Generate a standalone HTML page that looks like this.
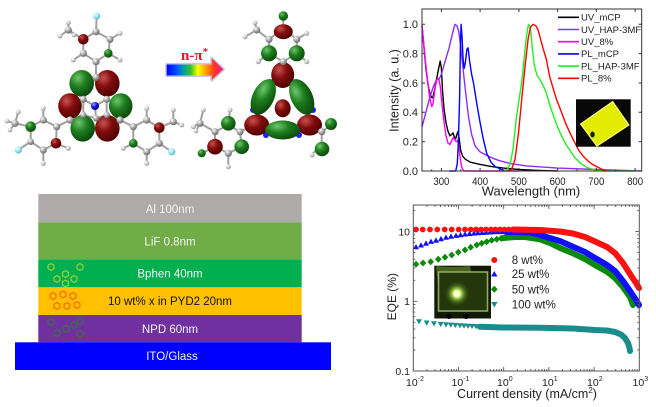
<!DOCTYPE html>
<html><head><meta charset="utf-8"><style>
html,body{margin:0;padding:0;background:#fff;}
svg{display:block;font-family:"Liberation Sans",Arial,sans-serif;}
</style></head><body>
<svg width="656" height="407" viewBox="0 0 656 407" xmlns="http://www.w3.org/2000/svg">
<defs>
<radialGradient id="gr" cx=".35" cy=".3" r=".75"><stop offset="0" stop-color="#c85050"/><stop offset=".45" stop-color="#820c0c"/><stop offset="1" stop-color="#4a0000"/></radialGradient>
<radialGradient id="gg" cx=".35" cy=".3" r=".75"><stop offset="0" stop-color="#6cc86c"/><stop offset=".45" stop-color="#1e7d1e"/><stop offset="1" stop-color="#0a450a"/></radialGradient>
<radialGradient id="ga" cx=".35" cy=".3" r=".75"><stop offset="0" stop-color="#ffffff"/><stop offset=".5" stop-color="#a8a8a8"/><stop offset="1" stop-color="#606060"/></radialGradient>
<radialGradient id="gh" cx=".35" cy=".3" r=".75"><stop offset="0" stop-color="#ffffff"/><stop offset=".5" stop-color="#d0d0d0"/><stop offset="1" stop-color="#8a8a8a"/></radialGradient>
<radialGradient id="gf" cx=".35" cy=".3" r=".75"><stop offset="0" stop-color="#f0ffff"/><stop offset=".5" stop-color="#9ee8f0"/><stop offset="1" stop-color="#50b0c0"/></radialGradient>
<radialGradient id="gn" cx=".35" cy=".3" r=".75"><stop offset="0" stop-color="#a0a0ff"/><stop offset=".5" stop-color="#1010e0"/><stop offset="1" stop-color="#000080"/></radialGradient>
<linearGradient id="arr" x1="0" x2="1" y1="0" y2="0"><stop offset="0" stop-color="#0000ff"/><stop offset=".18" stop-color="#0050ff"/><stop offset=".3" stop-color="#00a0a0"/><stop offset=".42" stop-color="#30c030"/><stop offset=".55" stop-color="#ffff00"/><stop offset=".7" stop-color="#ff9900"/><stop offset=".85" stop-color="#ff3030"/><stop offset="1" stop-color="#ff2080"/></linearGradient>
<radialGradient id="glow" cx=".5" cy=".5" r=".5"><stop offset="0" stop-color="#ffffe0"/><stop offset=".25" stop-color="#e0ff80"/><stop offset=".6" stop-color="#5a8a20" stop-opacity=".7"/><stop offset="1" stop-color="#2a4010" stop-opacity="0"/></radialGradient>
<path id="hx" d="M0,-3.4 l2.95,1.7 v3.4 l-2.95,1.7 l-2.95,-1.7 v-3.4 z" fill="none" stroke-width="1"/>
</defs>

<!-- ========== LEFT MOLECULE ========== -->
<g stroke="#a0a0a0" stroke-width="2" fill="none" stroke-linecap="round">
<path d="M96,31.7 L110,39.3 L108.3,53.3 L96,61.7 L83.3,53.3 L83.3,39.3 Z M96,31.7 L96.7,16 M83.3,39.3 L68.3,30 M68.3,30 L68.3,22.7 M68.3,30 L60,36 M68.3,30 L74,35 M110,39.3 L120,33.3 M108.3,53.3 L120,60 M83.3,53.3 L73.3,60 M96,61.7 L96,77.3 M96,77.3 L83.3,99.3 L83.3,115 L96,118.3 L106.7,115 L106.7,99.3 Z M83.3,99.3 L95,106 L106.7,99.3 M95,106 L96,118.3 M83.3,115 L70,120 M106.7,115 L120,120 M56.7,126.7 L43.3,120 L30.7,126.7 L30.7,141.7 L43.3,150 L56,143.3 Z M70,120 L56.7,126.7 M30.7,141.7 L18.3,150 M30.7,126.7 L15,123.3 M15,123.3 L18.3,112 M15,123.3 L7,121 M15,123.3 L10,130 M43.3,120 L43.3,108.3 M43.3,150 L43.3,163.3 M56,143.3 L68.3,148.3 M133.3,126.7 L146.7,120 L159.3,127.7 L159.3,143.3 L146.7,151.7 L133.3,143.3 Z M120,120 L133.3,126.7 M159.3,143.3 L171.7,151.7 M159.3,127.7 L173.3,121.7 M173.3,121.7 L173.3,110 M173.3,121.7 L181.7,125 M146.7,120 L146.7,108.3 M146.7,151.7 L146.7,163.3 M133.3,143.3 L123.3,148.3"/>
</g>
<g>
<ellipse cx="81.7" cy="83.3" rx="12.3" ry="13.3" fill="url(#gg)"/>
<ellipse cx="107.3" cy="83.3" rx="12.3" ry="13.3" fill="url(#gr)"/>
<ellipse cx="70" cy="106" rx="11.8" ry="12.8" fill="url(#gr)"/>
<ellipse cx="120.7" cy="106" rx="11.8" ry="12.8" fill="url(#gg)"/>
<ellipse cx="82.7" cy="128.3" rx="12.3" ry="13.3" fill="url(#gg)"/>
<ellipse cx="107.3" cy="128.3" rx="12.3" ry="13.3" fill="url(#gr)"/>
<circle cx="83.3" cy="39.3" r="5.3" fill="url(#gr)"/>
<circle cx="108.3" cy="53.3" r="4.3" fill="url(#gg)"/>
<circle cx="30.7" cy="126.7" r="5.3" fill="url(#gg)"/>
<circle cx="56" cy="143.3" r="5.3" fill="url(#gr)"/>
<circle cx="159.3" cy="127.7" r="5.3" fill="url(#gr)"/>
<circle cx="133.3" cy="143.3" r="4.3" fill="url(#gg)"/>
</g>
<g fill="url(#ga)">
<circle cx="96" cy="31.7" r="3.6"/><circle cx="110" cy="39.3" r="3.6"/><circle cx="96" cy="61.7" r="3.6"/><circle cx="83.3" cy="53.3" r="3.6"/><circle cx="68.3" cy="30" r="3.6"/><circle cx="96" cy="77.3" r="3.6"/><circle cx="83.3" cy="99.3" r="3.5"/><circle cx="106.7" cy="99.3" r="3.5"/><circle cx="83.3" cy="115" r="3.2"/><circle cx="106.7" cy="115" r="3.2"/><circle cx="96" cy="118.3" r="3.2"/><circle cx="70" cy="120" r="3.6"/><circle cx="120" cy="120" r="3.6"/><circle cx="56.7" cy="126.7" r="3.6"/><circle cx="43.3" cy="120" r="3.6"/><circle cx="30.7" cy="141.7" r="3.3"/><circle cx="43.3" cy="150" r="3.6"/><circle cx="15" cy="123.3" r="3.6"/><circle cx="133.3" cy="126.7" r="3.6"/><circle cx="146.7" cy="120" r="3.6"/><circle cx="159.3" cy="143.3" r="3.6"/><circle cx="146.7" cy="151.7" r="3.6"/><circle cx="173.3" cy="121.7" r="3.6"/>
</g>
<g fill="url(#gh)">
<circle cx="68.3" cy="22.7" r="2.5"/><circle cx="60" cy="36" r="2.5"/><circle cx="74" cy="35" r="2.3"/><circle cx="120" cy="33.3" r="2.5"/><circle cx="120" cy="60" r="2.5"/><circle cx="73.3" cy="60" r="2.5"/><circle cx="18.3" cy="112" r="2.5"/><circle cx="7" cy="121" r="2.5"/><circle cx="10" cy="130" r="2.3"/><circle cx="43.3" cy="108.3" r="2.5"/><circle cx="43.3" cy="163.3" r="2.5"/><circle cx="68.3" cy="148.3" r="2.5"/><circle cx="173.3" cy="110" r="2.5"/><circle cx="181.7" cy="125" r="2.5"/><circle cx="146.7" cy="108.3" r="2.5"/><circle cx="146.7" cy="163.3" r="2.5"/><circle cx="123.3" cy="148.3" r="2.5"/>
</g>
<g fill="url(#gf)"><circle cx="96.7" cy="16" r="3.6"/><circle cx="18.3" cy="150" r="3.6"/><circle cx="171.7" cy="151.7" r="3.6"/></g>
<circle cx="95" cy="106" r="4" fill="url(#gn)"/>

<!-- ========== ARROW ========== -->
<path d="M166.7,64.5 H211.7 V58.3 L223.3,69.3 L211.7,80 V75.5 H166.7 Z" fill="none" stroke="#c4c4f0" stroke-width="3" stroke-linejoin="round"/>
<path d="M166.7,64.5 H211.7 V58.3 L223.3,69.3 L211.7,80 V75.5 H166.7 Z" fill="url(#arr)"/>
<text x="181" y="60" font-family="Liberation Serif, serif" font-weight="bold" font-size="15" fill="#e8102a">n-π<tspan dy="-5" font-size="11">*</tspan></text>

<!-- ========== RIGHT MOLECULE ========== -->
<g stroke="#a0a0a0" stroke-width="2" fill="none" stroke-linecap="round">
<path d="M283.3,28 L296.7,39.3 L296.7,53.3 L283.3,61.7 L269,53.3 L269,39.3 Z M283.3,28 L283.3,16 M269,39.3 L256.7,30 M256.7,30 L255,22.7 M256.7,30 L245,36.7 M296.7,39.3 L306.7,33.3 M296.7,53.3 L306.7,61.7 M269,53.3 L258.3,61.7 M283.3,61.7 L283,72 M240,131.7 L228.3,125 L215,131.7 L215,146.7 L228.3,153.3 L241.7,146.7 Z M240,131.7 L252,126 M215,131.7 L200,123.3 M200,123.3 L203.3,110 M200,123.3 L193.3,126.7 M200,123.3 L196,131 M215,146.7 L201.7,153.3 M228.3,125 L230,110 M228.3,153.3 L228.3,166.7 M314,126 L321.7,131.7 L330,126 M321.7,131.7 L321.7,146 M321.7,146 L312,154"/>
</g>
<g fill="#2020ff">
<circle cx="270" cy="82" r="3"/><circle cx="296" cy="82" r="3"/><circle cx="253" cy="110" r="3"/><circle cx="313" cy="110" r="3"/><circle cx="266" cy="135" r="3"/><circle cx="299" cy="135" r="3"/>
</g>
<g>
<circle cx="283.3" cy="16" r="4.7" fill="url(#gg)"/>
<ellipse cx="283.3" cy="31.7" rx="9.5" ry="7.5" fill="url(#gr)"/>
<circle cx="269" cy="53.3" r="8" fill="url(#gg)"/>
<circle cx="296.7" cy="53.3" r="8" fill="url(#gg)"/>
<ellipse cx="282.7" cy="75" rx="11.5" ry="13" fill="url(#gr)"/>
<ellipse cx="263.3" cy="97" rx="10.8" ry="19" transform="rotate(25 263.3 97)" fill="url(#gg)"/>
<ellipse cx="301.7" cy="97" rx="10.8" ry="19" transform="rotate(-25 301.7 97)" fill="url(#gg)"/>
<ellipse cx="282.7" cy="108.3" rx="8" ry="9" fill="url(#gr)"/>
<ellipse cx="256.7" cy="125" rx="12.5" ry="10.5" fill="url(#gr)"/>
<ellipse cx="309.5" cy="125" rx="12.5" ry="10.5" fill="url(#gr)"/>
<ellipse cx="282.7" cy="130" rx="17.5" ry="9.5" fill="url(#gg)"/>
<circle cx="228.3" cy="123.3" r="7.3" fill="url(#gg)"/>
<circle cx="215" cy="146.7" r="7.8" fill="url(#gr)"/>
<circle cx="241.7" cy="146.7" r="7.3" fill="url(#gg)"/>
<circle cx="201.7" cy="153.3" r="4" fill="url(#gg)"/>
<circle cx="322" cy="149" r="7.3" fill="url(#gg)"/>
<circle cx="331" cy="124" r="6" fill="url(#gg)"/>
</g>
<g fill="url(#ga)">
<circle cx="269" cy="39.3" r="3.6"/><circle cx="296.7" cy="39.3" r="3.6"/><circle cx="256.7" cy="30" r="3.6"/><circle cx="283.3" cy="61.7" r="3.6"/><circle cx="240" cy="131.7" r="3.6"/><circle cx="215" cy="131.7" r="3.6"/><circle cx="228.3" cy="153.3" r="3.6"/><circle cx="200" cy="123.3" r="3.6"/><circle cx="321.7" cy="131.7" r="3.6"/>
</g>
<g fill="url(#gh)">
<circle cx="255" cy="22.7" r="2.5"/><circle cx="245" cy="36.7" r="2.5"/><circle cx="306.7" cy="33.3" r="2.5"/><circle cx="306.7" cy="61.7" r="2.5"/><circle cx="258.3" cy="61.7" r="2.5"/><circle cx="203.3" cy="110" r="2.5"/><circle cx="193.3" cy="126.7" r="2.5"/><circle cx="196" cy="131" r="2.3"/><circle cx="230" cy="110" r="2.5"/><circle cx="228.3" cy="166.7" r="2.5"/><circle cx="312" cy="155" r="2.5"/>
</g>

<!-- ========== DEVICE STACK ========== -->
<rect x="38.3" y="194" width="263.4" height="28.3" fill="#aeaaaa"/>
<rect x="38.3" y="222.3" width="263.4" height="37" fill="#70ad47"/>
<rect x="38.3" y="259.3" width="263.4" height="28" fill="#00b050"/>
<rect x="38.3" y="287.3" width="263.4" height="27.7" fill="#ffc000"/>
<rect x="38.3" y="315" width="263.4" height="27.3" fill="#7030a0"/>
<rect x="15" y="342.3" width="316" height="27.7" fill="#0000ff"/>
<g font-size="11.5" text-anchor="middle">
<text x="170" y="213" fill="#f4f4f4">Al 100nm</text>
<text x="170" y="245.5" fill="#f4f4f4">LiF 0.8nm</text>
<text x="170" y="277.5" fill="#f4f4f4">Bphen 40nm</text>
<text x="170" y="305" fill="#111">10 wt% x in PYD2 20nm</text>
<text x="170" y="333" fill="#f4f4f4">NPD 60nm</text>
<text x="172" y="360" fill="#f4f4f4">ITO/Glass</text>
</g>
<g stroke="#b5d835">
<use href="#hx" x="51" y="267"/><use href="#hx" x="80" y="267"/><use href="#hx" x="57" y="279"/><use href="#hx" x="65.5" y="283.5"/><use href="#hx" x="74" y="279"/><use href="#hx" x="65.5" y="274"/>
</g>
<g stroke="#ff5a00">
<use href="#hx" x="53" y="296"/><use href="#hx" x="63" y="294.5"/><use href="#hx" x="73" y="296"/><use href="#hx" x="57" y="306"/><use href="#hx" x="67" y="306"/><use href="#hx" x="77" y="305"/>
</g>
<g stroke="#2e7d32">
<use href="#hx" x="51" y="322"/><use href="#hx" x="57" y="333"/><use href="#hx" x="66" y="329"/><use href="#hx" x="74" y="325"/><use href="#hx" x="80" y="321"/><use href="#hx" x="80" y="334"/>
</g>

<!-- ========== TOP RIGHT CHART ========== -->
<g fill="none" stroke-width="1.4" stroke-linejoin="round">
<polyline stroke="#000" points="422.0,25.8 423.9,46.3 425.9,68.3 427.8,83.0 429.7,93.2 431.7,97.7 432.8,97.7 434.8,88.8 436.7,78.6 438.7,68.3 440.2,61.0 441.4,68.3 442.5,90.3 444.1,109.4 446.0,122.6 448.0,131.4 449.9,135.8 451.8,134.3 453.0,132.9 454.5,137.3 455.7,138.7 456.9,134.3 458.0,131.4 459.2,138.7 460.7,150.5 462.7,156.3 465.4,159.3 470.4,162.2 480.1,164.4 491.7,166.6 503.4,168.1 518.9,169.5 538.2,170.4 557.6,171"/>
<polyline stroke="#8f2cf0" points="422.0,127.0 425.9,112.3 429.7,97.7 433.6,85.9 436.3,80.0 439.4,78.6 441.4,74.2 445.2,61.0 449.1,47.8 452.2,34.6 454.9,24.3 456.9,25.8 458.8,31.6 460.7,46.3 462.7,65.4 464.6,83.0 466.6,100.6 468.5,116.7 471.6,134.3 475.1,146.1 480.1,151.9 485.9,154.9 491.7,157.8 499.5,160.7 511.1,163.7 526.6,165.9 557.6,168.1 596.3,169.5 641.7,171"/>
<polyline stroke="#ff00ff" points="422.0,24.3 423.9,46.3 425.9,65.4 427.8,83.0 429.7,97.7 431.7,106.5 432.8,105.0 434.8,90.3 436.7,80.0 438.7,78.6 440.2,85.9 442.1,105.0 444.1,122.6 446.0,135.8 448.0,143.1 449.9,144.6 451.8,140.2 453.4,137.3 454.9,140.2 456.1,141.7 457.7,140.2 458.8,146.1 460.0,156.3 461.2,165.1 462.7,169.5 464.6,171 518.9,171"/>
<polyline stroke="#0000ff" points="449.1,171 455.7,171 457.3,163.7 458.4,141.7 459.6,97.7 460.4,46.3 461.1,24.3 461.9,34.6 463.1,59.5 464.2,68.3 465.4,62.4 466.9,49.2 468.1,47.8 469.6,61.0 471.6,74.2 473.5,83.0 477.0,105.0 480.1,122.6 483.2,138.7 486.7,153.4 491.0,162.2 495.2,166.6 501.4,169.5 507.2,171"/>
<polyline stroke="#22ee22" points="503.4,171 507.2,169.5 510.3,163.7 513.0,149.0 516.5,116.7 518.9,100.6 521.6,83.0 523.9,61.0 525.8,41.9 527.4,30.2 528.5,24.3 529.7,25.8 530.9,33.1 532.4,49.2 534.3,65.4 537.1,75.6 540.2,80.0 543.3,85.9 546.4,93.2 549.8,105.0 553.7,116.7 557.6,127.0 561.5,135.8 565.3,143.1 570.0,150.5 575.0,157.8 580.8,163.7 588.6,168.1 596.3,170.3 604.1,171 635.1,171"/>
<polyline stroke="#ff0000" points="507.2,171 511.5,169.5 515.0,159.3 518.5,132.9 521.6,100.6 525.0,66.8 528.1,39.0 530.5,27.2 533.2,24.3 535.9,25.8 538.2,30.2 540.5,39.0 543.3,49.2 546.4,59.5 549.8,77.1 553.7,90.3 556.4,99.1 561.5,112.3 565.3,122.6 570.0,132.9 575.0,143.1 578.9,150.5 583.2,156.3 588.6,161.5 592.5,164.4 596.7,166.6 601.0,168.8 604.1,170.3 606.0,171"/>
</g>
<rect x="422" y="9" width="219.7" height="162" fill="none" stroke="#333" stroke-width="1"/>
<path stroke="#333" stroke-width="1" fill="none" d="M422,24.3h3M422,53.6h3M422,83h3M422,112.3h3M422,141.7h3M641.7,24.3h-3M641.7,53.6h-3M641.7,83h-3M641.7,112.3h-3M641.7,141.7h-3M441.4,171v-3M480.1,171v-3M518.9,171v-3M557.6,171v-3M596.3,171v-3M635.1,171v-3M441.4,9v3M480.1,9v3M518.9,9v3M557.6,9v3M596.3,9v3M635.1,9v3M431.7,171v-1.6M460.7,171v-1.6M499.5,171v-1.6M538.2,171v-1.6M577,171v-1.6M615.7,171v-1.6"/>
<g font-size="11" fill="#222" text-anchor="end">
<text x="418" y="28.2">1.0</text><text x="418" y="57.5">0.8</text><text x="418" y="86.9">0.6</text><text x="418" y="116.2">0.4</text><text x="418" y="145.6">0.2</text><text x="418" y="174.9">0.0</text>
</g>
<g font-size="11" fill="#222" text-anchor="middle">
<text x="441.4" y="185" textLength="16" lengthAdjust="spacingAndGlyphs">300</text>
<text x="480.1" y="185" textLength="16" lengthAdjust="spacingAndGlyphs">400</text>
<text x="518.9" y="185" textLength="16" lengthAdjust="spacingAndGlyphs">500</text>
<text x="557.6" y="185" textLength="16" lengthAdjust="spacingAndGlyphs">600</text>
<text x="596.3" y="185" textLength="16" lengthAdjust="spacingAndGlyphs">700</text>
<text x="635.1" y="185" textLength="16" lengthAdjust="spacingAndGlyphs">800</text>
</g>
<text x="531" y="195.5" font-size="13" fill="#222" text-anchor="middle">Wavelength (nm)</text>
<text transform="translate(398.5 90.5) rotate(-90)" font-size="12.5" fill="#222" text-anchor="middle">Intensity (a. u.)</text>
<g stroke-width="1.6">
<line x1="558" y1="17.3" x2="579" y2="17.3" stroke="#000"/>
<line x1="558" y1="29.5" x2="579" y2="29.5" stroke="#8f2cf0"/>
<line x1="558" y1="41.7" x2="579" y2="41.7" stroke="#ff00ff"/>
<line x1="558" y1="53.9" x2="579" y2="53.9" stroke="#0000ff"/>
<line x1="558" y1="66.1" x2="579" y2="66.1" stroke="#22ee22"/>
<line x1="558" y1="78.3" x2="579" y2="78.3" stroke="#ff0000"/>
</g>
<g font-size="9.5" fill="#222">
<text x="581" y="20.6">UV_mCP</text><text x="581" y="32.8">UV_HAP-3MF</text><text x="581" y="45">UV_8%</text><text x="581" y="57.2">PL_mCP</text><text x="581" y="69.4">PL_HAP-3MF</text><text x="581" y="81.6">PL_8%</text>
</g>
<rect x="576" y="99.3" width="54.7" height="47.4" fill="#080808"/>
<polygon points="612.7,101.7 628.8,125 596.9,146 580.7,124" fill="#e2ec00" stroke="#f6ff70" stroke-width="1.3"/>
<ellipse cx="592.5" cy="134.5" rx="2.2" ry="3" fill="#1a1a00"/>

<!-- ========== BOTTOM RIGHT CHART ========== -->
<rect x="434.3" y="265.7" width="56.7" height="52.8" fill="#101a05"/>
<path d="M436,266 Q452,268 470,266 L472,275 Q452,279 438,285 Z" fill="#5a7a25" opacity=".75"/>
<rect x="438.5" y="272" width="49" height="39" fill="#24360c" stroke="#90a860" stroke-width="1.6"/>
<circle cx="457" cy="293.7" r="13" fill="url(#glow)"/>
<circle cx="457" cy="293.7" r="3" fill="#ffffe8"/>
<ellipse cx="449" cy="316.5" rx="3" ry="2.5" fill="#000"/>
<ellipse cx="466" cy="316.5" rx="3" ry="2.5" fill="#000"/>

<!-- teal -->
<g fill="#1a8c8c">
<path d="M416,319.2h6l-3,5.2z M423.7,320.5h6l-3,5.2z M431,321.3h6l-3,5.2z M437.7,321.9h6l-3,5.2z M443,322.3h6l-3,5.2z M447.7,322.6h6l-3,5.2z M452.3,322.9h6l-3,5.2z M457,323.2h6l-3,5.2z M461,323.5h6l-3,5.2z M465,323.7h6l-3,5.2z M469,323.9h6l-3,5.2z M473,324.1h6l-3,5.2z M477,324.3h6l-3,5.2z"/>
</g>
<polyline fill="none" stroke="#1a8c8c" stroke-width="6" stroke-linecap="round" stroke-linejoin="round" points="480,326.8 503,327.5 540,327.7 573,328.5 595,330 607,330.5 615,332 621,334.5 625,338 628,343 629.5,348 630,351"/>
<!-- green -->
<g fill="#0a8a0a">
<path d="M416,260.8l3.3,3.5l-3.3,3.5l-3.3,-3.5z M423,259.5l3.3,3.5l-3.3,3.5l-3.3,-3.5z M430.7,258.2l3.3,3.5l-3.3,3.5l-3.3,-3.5z M438.3,255.8l3.3,3.5l-3.3,3.5l-3.3,-3.5z M445,253.8l3.3,3.5l-3.3,3.5l-3.3,-3.5z M451.7,251.5l3.3,3.5l-3.3,3.5l-3.3,-3.5z M458.3,248.8l3.3,3.5l-3.3,3.5l-3.3,-3.5z M465,246.5l3.3,3.5l-3.3,3.5l-3.3,-3.5z M470.7,243.8l3.3,3.5l-3.3,3.5l-3.3,-3.5z M476.7,241.5l3.3,3.5l-3.3,3.5l-3.3,-3.5z M481.7,239.8l3.3,3.5l-3.3,3.5l-3.3,-3.5z M486.7,238.2l3.3,3.5l-3.3,3.5l-3.3,-3.5z M491.7,236.8l3.3,3.5l-3.3,3.5l-3.3,-3.5z M496.7,235.8l3.3,3.5l-3.3,3.5l-3.3,-3.5z M501.7,234.8l3.3,3.5l-3.3,3.5l-3.3,-3.5z"/>
</g>
<polyline fill="none" stroke="#0a8a0a" stroke-width="6" stroke-linecap="round" stroke-linejoin="round" points="501.7,238.3 506,237.8 515,237 525,237 535,238.5 540,239.3 550,243 560,248 573,253.3 585,259 595,265 607,271.7 615,278 623,287 630,297 633,305"/>
<!-- blue -->
<g fill="#1010ff">
<path d="M416,244l3,5.3h-6z M421,242.2l3,5.3h-6z M426,240.4l3,5.3h-6z M431,238.6l3,5.3h-6z M436,237.4l3,5.3h-6z M441,235.9l3,5.3h-6z M446,234.5l3,5.3h-6z M451,233.5l3,5.3h-6z M456,232.6l3,5.3h-6z M460.5,231.9l3,5.3h-6z M465,231.2l3,5.3h-6z M469.5,230.7l3,5.3h-6z M474,230.3l3,5.3h-6z M478,229.9l3,5.3h-6z M482,229.7l3,5.3h-6z M486,229.4l3,5.3h-6z M490,229.2l3,5.3h-6z M494,229l3,5.3h-6z M498,228.9l3,5.3h-6z M502,228.8l3,5.3h-6z M506,228.7l3,5.3h-6z"/>
</g>
<polyline fill="none" stroke="#1010ff" stroke-width="6" stroke-linecap="round" stroke-linejoin="round" points="506,232 515,232 530,232.5 540,235 550,238 560,241 573,246.7 585,252 595,258 607,265 615,271 623,281 630,291 636,300 639,305"/>
<!-- red -->
<g fill="#ff1010">
<circle cx="416" cy="229.5" r="2.9"/><circle cx="422.7" cy="229.5" r="2.9"/><circle cx="430" cy="229.5" r="2.9"/><circle cx="437.3" cy="229.5" r="2.9"/><circle cx="444.7" cy="229.5" r="2.9"/><circle cx="451.7" cy="229.5" r="2.9"/><circle cx="458.7" cy="229.5" r="2.9"/><circle cx="465" cy="229.5" r="2.9"/><circle cx="470.7" cy="229.5" r="2.9"/><circle cx="476" cy="229.5" r="2.9"/><circle cx="481" cy="229.5" r="2.9"/><circle cx="486" cy="229.5" r="2.9"/><circle cx="491" cy="229.5" r="2.9"/><circle cx="495.3" cy="229.5" r="2.9"/><circle cx="500" cy="229.5" r="2.9"/><circle cx="504.3" cy="229.5" r="2.9"/><circle cx="508.7" cy="229.5" r="2.9"/>
</g>
<polyline fill="none" stroke="#ff1010" stroke-width="6" stroke-linecap="round" stroke-linejoin="round" points="513,229.5 540,230 560,231.5 573,233.5 585,237 595,241.5 607,247 615,253 623,263 630,274 636,283 639,288"/>

<rect x="413.3" y="205" width="226" height="166" fill="none" stroke="#555" stroke-width="1"/>
<path stroke="#555" stroke-width="0.9" fill="none" d="M413.3,301.3h4M413.3,231.6h4M639.3,301.3h-4M639.3,231.6h-4
M413.3,350h2M413.3,337.8h2M413.3,329h2M413.3,322.3h2M413.3,316.8h2M413.3,312.1h2M413.3,308.1h2M413.3,304.5h2M413.3,280.3h2M413.3,268.1h2M413.3,259.3h2M413.3,252.6h2M413.3,247.1h2M413.3,242.4h2M413.3,238.4h2M413.3,234.8h2M413.3,210.6h2
M639.3,350h-2M639.3,337.8h-2M639.3,329h-2M639.3,322.3h-2M639.3,316.8h-2M639.3,312.1h-2M639.3,308.1h-2M639.3,304.5h-2M639.3,280.3h-2M639.3,268.1h-2M639.3,259.3h-2M639.3,252.6h-2M639.3,247.1h-2M639.3,242.4h-2M639.3,238.4h-2M639.3,234.8h-2M639.3,210.6h-2
M458.5,371v-4M503.7,371v-4M548.9,371v-4M594.1,371v-4M458.5,205v4M503.7,205v4M548.9,205v4M594.1,205v4
M426.9,371v-2M434.9,371v-2M440.5,371v-2M444.9,371v-2M448.5,371v-2M451.5,371v-2M454.1,371v-2M456.4,371v-2
M472.1,371v-2M480.1,371v-2M485.7,371v-2M490.1,371v-2M493.7,371v-2M496.7,371v-2M499.3,371v-2M501.6,371v-2
M517.3,371v-2M525.3,371v-2M530.9,371v-2M535.3,371v-2M538.9,371v-2M541.9,371v-2M544.5,371v-2M546.8,371v-2
M562.5,371v-2M570.5,371v-2M576.1,371v-2M580.5,371v-2M584.1,371v-2M587.1,371v-2M589.7,371v-2M592,371v-2
M607.7,371v-2M615.7,371v-2M621.3,371v-2M625.7,371v-2M629.3,371v-2M632.3,371v-2M634.9,371v-2M637.2,371v-2
M426.9,205v2M434.9,205v2M440.5,205v2M444.9,205v2M448.5,205v2M451.5,205v2M454.1,205v2M456.4,205v2
M472.1,205v2M480.1,205v2M485.7,205v2M490.1,205v2M493.7,205v2M496.7,205v2M499.3,205v2M501.6,205v2
M517.3,205v2M525.3,205v2M530.9,205v2M535.3,205v2M538.9,205v2M541.9,205v2M544.5,205v2M546.8,205v2
M562.5,205v2M570.5,205v2M576.1,205v2M580.5,205v2M584.1,205v2M587.1,205v2M589.7,205v2M592,205v2
M607.7,205v2M615.7,205v2M621.3,205v2M625.7,205v2M629.3,205v2M632.3,205v2M634.9,205v2M637.2,205v2"/>
<g font-size="10.5" fill="#222" text-anchor="end">
<text x="410" y="235.4">10</text><text x="410" y="305.1">1</text><text x="410" y="374.8">0.1</text>
</g>
<g font-size="10.5" fill="#222">
<text x="406" y="386">10<tspan dy="-5" font-size="7">-2</tspan></text>
<text x="451.5" y="386">10<tspan dy="-5" font-size="7">-1</tspan></text>
<text x="497" y="386">10<tspan dy="-5" font-size="7">0</tspan></text>
<text x="542" y="386">10<tspan dy="-5" font-size="7">1</tspan></text>
<text x="587" y="386">10<tspan dy="-5" font-size="7">2</tspan></text>
<text x="632.5" y="386">10<tspan dy="-5" font-size="7">3</tspan></text>
</g>
<text x="527" y="398" font-size="12.5" fill="#222" text-anchor="middle">Current density (mA/cm<tspan dy="-5" font-size="8">2</tspan><tspan dy="5">)</tspan></text>
<text transform="translate(396 296.7) rotate(-90)" font-size="12" fill="#222" text-anchor="middle">EQE (%)</text>

<circle cx="494.3" cy="260" r="3" fill="#ff1010"/>
<path d="M494.3,271l3.2,5.5h-6.4z" fill="#1010ff"/>
<path d="M494.3,285.8l3.4,3.5l-3.4,3.5l-3.4,-3.5z" fill="#0a8a0a"/>
<path d="M491.1,302h6.4l-3.2,5.5z" fill="#1a8c8c"/>
<g font-size="11.5" fill="#222">
<text x="511.7" y="264">8 wt%</text><text x="511.7" y="278">25 wt%</text><text x="511.7" y="293.5">50 wt%</text><text x="511.7" y="308.5">100 wt%</text>
</g>
</svg>
</body></html>
